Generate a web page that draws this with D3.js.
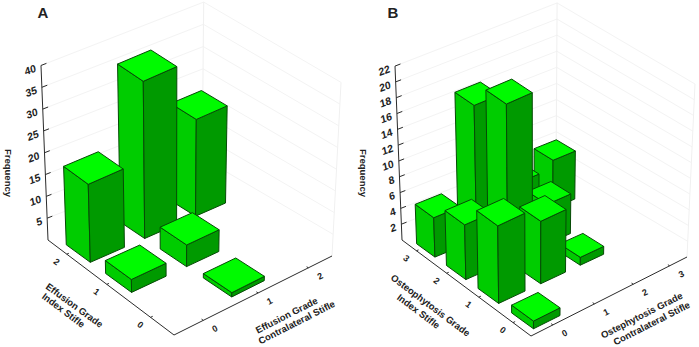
<!DOCTYPE html>
<html><head><meta charset="utf-8">
<script src="https://cdn.jsdelivr.net/npm/d3@7/dist/d3.min.js"></script>
<style>
html,body{margin:0;padding:0;background:#fff}
svg{display:block}
text{font-family:"Liberation Sans",Arial,sans-serif;fill:#222}
</style></head><body>
<script>
// ---- data ----
const effusionGrades = [0, 1, 2];
const effusionIndex  = [2, 2, 2, 1, 1, 0];
const effusionContra = [0, 1, 2, 0, 1, 1];
const effusionFreq   = [18, 36, 22, 3, 5, 1];
const effusionTicks  = [5, 10, 15, 20, 25, 30, 35, 40];

const osteoGrades = [0, 1, 2, 3];
const osteoIndex  = [3, 3, 3, 3, 2, 2, 2, 1, 1, 1, 0];
const osteoContra = [0, 1, 2, 3, 0, 1, 2, 0, 1, 2, 0];
const osteoFreq   = [5, 17, 5, 6, 7, 20, 5, 10, 8, 1, 1];
const osteoTicks  = [2, 4, 6, 8, 10, 12, 14, 16, 18, 20, 22];

const W = 699, H = 347;
const svg = d3.select("body").append("svg").attr("width", W).attr("height", H);

function squareToQuad(p0, p1, p2, p3) {
  const dx1 = p1[0]-p2[0], dx2 = p3[0]-p2[0], sx = p0[0]-p1[0]+p2[0]-p3[0];
  const dy1 = p1[1]-p2[1], dy2 = p3[1]-p2[1], sy = p0[1]-p1[1]+p2[1]-p3[1];
  const den = dx1*dy2-dx2*dy1;
  const g = (sx*dy2-dx2*sy)/den, h = (dx1*sy-sx*dy1)/den;
  const a = p1[0]-p0[0]+g*p1[0], b = p3[0]-p0[0]+h*p3[0];
  const d = p1[1]-p0[1]+g*p1[1], e = p3[1]-p0[1]+h*p3[1];
  return (u, v) => { const w = g*u+h*v+1; return [(a*u+b*v+p0[0])/w, (d*u+e*v+p0[1])/w]; };
}

function drawPanel(cfg) {
  const g = svg.append("g");
  const makeP = quad => {
    const floor = squareToQuad(quad.front, quad.right, quad.back, quad.left);
    return (c, i, z) => {
      const f = floor(c, i), s = 1 + zScale(z);
      return [cfg.vp[0]+(f[0]-cfg.vp[0])*s, cfg.vp[1]+(f[1]-cfg.vp[1])*s];
    };
  };
  const zScale = d3.scaleLinear().domain([0, cfg.yMax]).range([0, cfg.k-1]);
  const band = d3.scaleBand().domain(cfg.grades).range([0, 1]).paddingInner(0.38).paddingOuter(0.19);
  const P = makeP(cfg.frame), Q = makeP(cfg.barFrame);
  const line = d3.line();
  const top = cfg.yMax;

  // walls
  const wallLine = z => line([P(0,1,z), P(1,1,z), P(1,0,z)]);
  g.selectAll("path.grid").data(cfg.ticks).join("path").attr("class","grid")
    .attr("d", wallLine).attr("fill","none").attr("stroke","#f3f3f3").attr("stroke-width",1);
  [[1,1],[1,0]].forEach(([c,i]) => g.append("path").attr("d", line([P(c,i,0),P(c,i,top)]))
    .attr("fill","none").attr("stroke","#f0f0f0"));

  // axes
  const axisStroke = "#2b2b2b";
  const ax = (pts, w=1) => g.append("path").attr("d", line(pts)).attr("fill","none").attr("stroke",axisStroke).attr("stroke-width",w);
  ax([P(0,1,0), P(0,1,top)]);
  ax([P(0,1,0), P(0,0,0), P(1,0,0)]);

  const mid = v => band(v) + band.bandwidth()/2;

  // frequency ticks
  cfg.ticks.forEach(t => {
    const a = P(0,1,t), b = P(0.03,1,t);
    ax([a,b]);
    g.append("text").attr("text-anchor","end").attr("font-size",10.5).attr("font-weight",700)
      .attr("transform",`translate(${a[0]-4.5},${a[1]+6}) rotate(-20) skewX(-8)`).text(t);
  });
  // index ticks
  cfg.grades.forEach(v => {
    const a = P(0,mid(v),0), b = P(0.012,mid(v),0);
    ax([a,b]);
    g.append("text").attr("text-anchor","middle").attr("font-size",9).attr("font-weight",700)
      .attr("transform",`translate(${a[0]-12},${a[1]+10}) rotate(37)`).text(v);
  });
  // contralateral ticks
  cfg.grades.forEach(v => {
    const a = P(mid(v),0,0), b = P(mid(v),0.012,0);
    ax([a,b]);
    g.append("text").attr("text-anchor","middle").attr("font-size",9).attr("font-weight",700)
      .attr("transform",`translate(${a[0]+13},${a[1]+11}) rotate(-27)`).text(v);
  });

  // bars, back to front
  const bars = cfg.freq.map((f,n) => ({f, i:cfg.index[n], c:cfg.contra[n]}))
    .sort((a,b) => (b.i+b.c)-(a.i+a.c) || b.i-a.i);
  const barG = g.selectAll("g.bar").data(bars).join("g").attr("class","bar")
    .attr("stroke","#064a06").attr("stroke-width",1).attr("stroke-linejoin","round");
  const bw = band.bandwidth();
  barG.each(function(d) {
    const c0 = band(d.c), c1 = c0+bw, i0 = band(d.i), i1 = i0+bw;
    const s = d3.select(this);
    s.append("path").attr("fill","#00cc00").attr("d", line([Q(c0,i0,0),Q(c0,i1,0),Q(c0,i1,d.f),Q(c0,i0,d.f)])+"Z");
    s.append("path").attr("fill","#009a00").attr("d", line([Q(c0,i0,0),Q(c1,i0,0),Q(c1,i0,d.f),Q(c0,i0,d.f)])+"Z");
    s.append("path").attr("fill","#00fa00").attr("d", line([Q(c0,i0,d.f),Q(c1,i0,d.f),Q(c1,i1,d.f),Q(c0,i1,d.f)])+"Z");
  });

  // titles
  const t = (txt, x, y, r, fs) => g.append("text").attr("text-anchor","middle").attr("font-size",fs).attr("font-weight",700)
    .attr("dominant-baseline","middle").attr("transform",`translate(${x},${y}) rotate(${r})`).text(txt);
  cfg.titles.forEach(a => t(...a));
  g.append("text").attr("x",cfg.letter[0]).attr("y",cfg.letter[1]).attr("font-size",15).attr("font-weight",700)
    .attr("text-anchor","middle").attr("fill","#111").text(cfg.name);
}

drawPanel({
  name:"A", letter:[43,18], grades:effusionGrades, index:effusionIndex, contra:effusionContra, freq:effusionFreq,
  ticks:effusionTicks, yMax:40,
  frame:{front:[174,335], right:[332,256], back:[202,180], left:[48,240]},
  barFrame:{front:[174,337], right:[332,256.5], back:[202,180], left:[48.5,244]},
  vp:[172,3329], k:1.0565,
  titles:[["Frequency",7.5,173,90,9.5],["Effusion Grade",74,306,36,9.5],["Index Stifle",63,311,37,9.5],
          ["Effusion Grade",287,316,-27,9.5],["Contralateral Stifle",297,323,-27,9.5]]
});
drawPanel({
  name:"B", letter:[393,18], grades:osteoGrades, index:osteoIndex, contra:osteoContra, freq:osteoFreq,
  ticks:osteoTicks, yMax:22,
  frame:{front:[531,336], right:[687,257], back:[556,180], left:[402,240]},
  barFrame:{front:[532,338], right:[688,259], back:[557,182], left:[403,243]},
  vp:[535,3546], k:1.0526,
  titles:[["Frequency",362.5,173,90,9.5],["Osteophytosis Grade",430,306,37,9.5],["Index Stifle",418,312,37,9.5],
          ["Ostephytosis Grade",642,316,-27,9.5],["Contralateral Stifle",652,324,-27,9.5]]
});
</script>
</body></html>
